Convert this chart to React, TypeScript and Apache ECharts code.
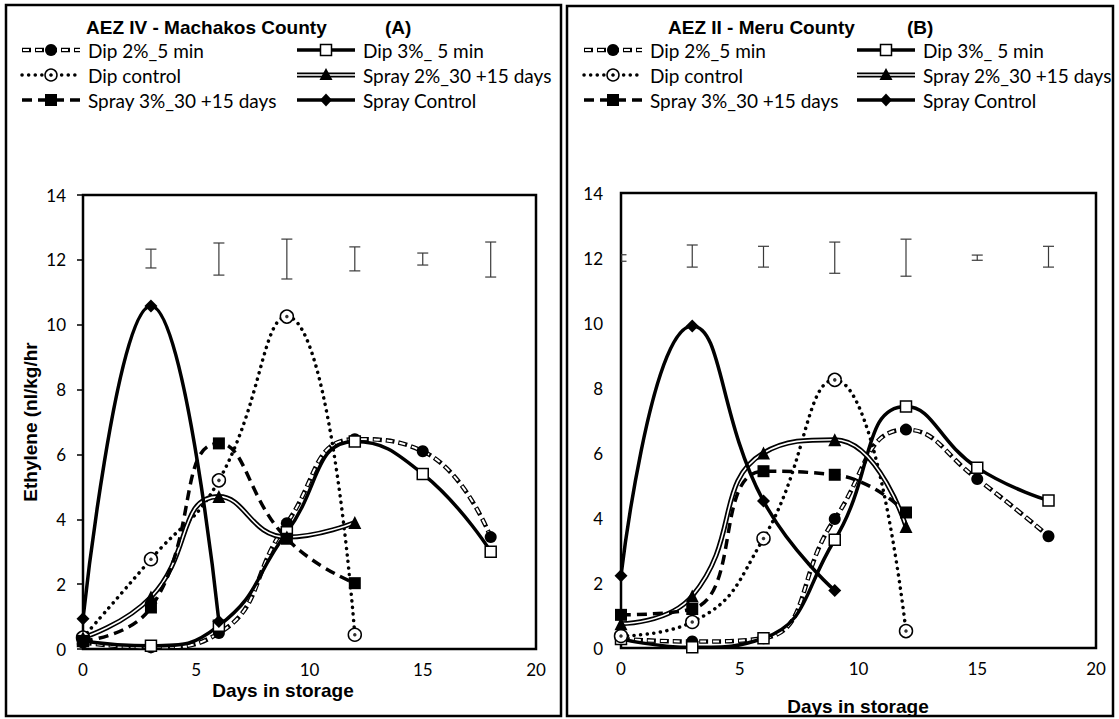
import React, { useEffect, useRef } from "react";
import * as echarts from "echarts";

// ---------- data ----------
const days = [0, 3, 6, 9, 12, 15, 18];
const xTicks = [0, 5, 10, 15, 20];
const yTicks = [0, 2, 4, 6, 8, 10, 12, 14];

const names = [
  "Dip 2%_5 min",
  "Dip 3%_ 5 min",
  "Dip control",
  "Spray 2%_30 +15 days",
  "Spray 3%_30 +15 days",
  "Spray Control",
];

// Panel A - AEZ IV Machakos County
const dip2A = [0.2, 0.05, 0.49, 3.88, 6.47, 6.1, 3.45];
const dip3A = [0.25, 0.1, 0.72, 3.6, 6.4, 5.4, 3.0];
const dipCtrlA = [0.35, 2.77, 5.2, 10.25, 0.44];
const spray2A = [0.35, 1.6, 4.7, 3.45, 3.9];
const spray3A = [0.25, 1.28, 6.34, 3.4, 2.03];
const sprayCtrlA = [0.93, 10.58, 0.85];
const errDaysA = [3, 6, 9, 12, 15, 18];
const errLowA = [11.75, 11.53, 11.41, 11.66, 11.84, 11.47];
const errHighA = [12.33, 12.52, 12.64, 12.4, 12.21, 12.55];

// Panel B - AEZ II Meru County
const dip2B = [0.28, 0.2, 0.3, 3.97, 6.72, 5.2, 3.44];
const dip3B = [0.28, 0.02, 0.3, 3.33, 7.43, 5.55, 4.54];
const dipCtrlB = [0.37, 0.8, 3.37, 8.25, 0.52];
const spray2B = [0.75, 1.6, 6.0, 6.41, 3.74];
const spray3B = [1.02, 1.2, 5.44, 5.33, 4.17];
const sprayCtrlB = [2.22, 9.91, 4.52, 1.77];
const errDaysB = [0, 3, 6, 9, 12, 15, 18];
const errLowB = [11.9, 11.72, 11.72, 11.53, 11.44, 11.93, 11.72];
const errHighB = [12.1, 12.4, 12.36, 12.49, 12.58, 12.09, 12.36];

// ---------- helpers ----------
const SM = 0.5;
const FONT = "Lato";
const BOLD = "Liberation Sans";

const pairs = (vals: number[]) => vals.map((v, i) => [days[i], v]);

function panelSeries(
  g: number,
  d: { dip2: number[]; dip3: number[]; dipCtrl: number[]; spray2: number[]; spray3: number[]; sprayCtrl: number[] },
  eDays: number[],
  eLow: number[],
  eHigh: number[]
) {
  const base = { type: "line", xAxisIndex: g, yAxisIndex: g, smooth: SM, silent: true };
  return [
    {
      type: "custom",
      xAxisIndex: g,
      yAxisIndex: g,
      clip: true,
      silent: true,
      z: 1,
      data: eDays.map((x, i) => [x, eLow[i], eHigh[i]]),
      encode: { x: 0, y: [1, 2] },
      renderItem: (_p: any, api: any) => {
        const lo = api.coord([api.value(0), api.value(1)]);
        const hi = api.coord([api.value(0), api.value(2)]);
        const hw = 5.5;
        const st = { stroke: "#3a3a3a", lineWidth: 1.2 };
        return {
          type: "group",
          children: [
            { type: "line", shape: { x1: lo[0], y1: lo[1], x2: hi[0], y2: hi[1] }, style: st },
            { type: "line", shape: { x1: lo[0] - hw, y1: lo[1], x2: lo[0] + hw, y2: lo[1] }, style: st },
            { type: "line", shape: { x1: hi[0] - hw, y1: hi[1], x2: hi[0] + hw, y2: hi[1] }, style: st },
          ],
        };
      },
    },
    // Dip 2% : outlined white dashes
    {
      ...base,
      name: names[0] + " outline",
      data: pairs(d.dip2),
      symbol: "none",
      lineStyle: { color: "#000", width: 4.5, type: [9, 4] },
    },
    {
      ...base,
      name: names[0],
      data: pairs(d.dip2),
      symbol: "circle",
      symbolSize: 12,
      itemStyle: { color: "#000" },
      lineStyle: { color: "#fff", width: 2, type: [6, 7], dashOffset: -1.5 },
    },
    // Dip 3%
    {
      ...base,
      name: names[1],
      data: pairs(d.dip3),
      symbol: "rect",
      symbolSize: 11,
      itemStyle: { color: "#fff", borderColor: "#000", borderWidth: 1.5 },
      lineStyle: { color: "#000", width: 3.5 },
    },
    // Dip control
    {
      ...base,
      name: names[2],
      data: pairs(d.dipCtrl),
      symbol: "circle",
      symbolSize: 13,
      itemStyle: { color: "#fff", borderColor: "#000", borderWidth: 1.5 },
      lineStyle: { color: "#000", width: 3.5, type: [0.1, 6.5], cap: "round" },
    },
    {
      type: "scatter",
      xAxisIndex: g,
      yAxisIndex: g,
      silent: true,
      z: 3,
      data: pairs(d.dipCtrl),
      symbol: "circle",
      symbolSize: 3.5,
      itemStyle: { color: "#000" },
    },
    // Spray 2% : double line
    {
      ...base,
      name: names[3] + " outline",
      data: pairs(d.spray2),
      symbol: "none",
      lineStyle: { color: "#000", width: 5 },
    },
    {
      ...base,
      name: names[3],
      data: pairs(d.spray2),
      symbol: "triangle",
      symbolSize: 13,
      itemStyle: { color: "#000" },
      lineStyle: { color: "#fff", width: 1.6 },
    },
    // Spray 3%
    {
      ...base,
      name: names[4],
      data: pairs(d.spray3),
      symbol: "rect",
      symbolSize: 12,
      itemStyle: { color: "#000" },
      lineStyle: { color: "#000", width: 3.5, type: [10, 6] },
    },
    // Spray control
    {
      ...base,
      name: names[5],
      data: pairs(d.sprayCtrl),
      symbol: "diamond",
      symbolSize: 13,
      itemStyle: { color: "#000" },
      lineStyle: { color: "#000", width: 3.5 },
    },
  ];
}

function legendItem(kind: number, x0: number, w: number, y: number, tx: number) {
  const els: any[] = [];
  const cx = x0 + w / 2;
  const line = (style: any) => ({
    type: "line",
    silent: true,
    shape: { x1: x0, y1: y, x2: x0 + w, y2: y },
    style: { stroke: "#000", ...style },
  });
  if (kind === 0) {
    els.push(line({ lineWidth: 4.5, lineDash: [9, 4] }));
    els.push(line({ stroke: "#fff", lineWidth: 2, lineDash: [6, 7], lineDashOffset: -1.5 }));
    els.push({ type: "circle", shape: { cx, cy: y, r: 6 }, style: { fill: "#000" } });
  } else if (kind === 1) {
    els.push(line({ lineWidth: 3.5 }));
    els.push({ type: "rect", shape: { x: cx - 5.5, y: y - 5.5, width: 11, height: 11 }, style: { fill: "#fff", stroke: "#000", lineWidth: 1.5 } });
  } else if (kind === 2) {
    els.push(line({ lineWidth: 3.5, lineDash: [0.1, 6.5], lineCap: "round" }));
    els.push({ type: "circle", shape: { cx, cy: y, r: 6 }, style: { fill: "#fff", stroke: "#000", lineWidth: 1.5 } });
    els.push({ type: "circle", shape: { cx, cy: y, r: 1.8 }, style: { fill: "#000" } });
  } else if (kind === 3) {
    els.push(line({ lineWidth: 5 }));
    els.push(line({ stroke: "#fff", lineWidth: 1.6 }));
    els.push({ type: "polygon", shape: { points: [[cx, y - 7], [cx + 6.5, y + 5], [cx - 6.5, y + 5]] }, style: { fill: "#000" } });
  } else if (kind === 4) {
    els.push(line({ lineWidth: 3.5, lineDash: [10, 6] }));
    els.push({ type: "rect", shape: { x: cx - 6, y: y - 6, width: 12, height: 12 }, style: { fill: "#000" } });
  } else {
    els.push(line({ lineWidth: 3.5 }));
    els.push({ type: "polygon", shape: { points: [[cx, y - 6.5], [cx + 6, y], [cx, y + 6.5], [cx - 6, y]] }, style: { fill: "#000" } });
  }
  els.push({
    type: "text",
    style: { text: names[kind], x: tx, y, fill: "#000", fontSize: 19, fontFamily: FONT, verticalAlign: "middle" },
  });
  return els;
}

function legendBlock(c1: number, c2: number) {
  const rows = [50, 75, 100];
  const out: any[] = [];
  for (let i = 0; i < 6; i++) {
    const col = i % 2;
    const row = Math.floor(i / 2);
    const x0 = col === 0 ? c1 : c2;
    out.push(...legendItem(i, x0, 58, rows[row], x0 + 66));
  }
  return out;
}

const boldText = (text: string, x: number, y: number, extra: any = {}) => ({
  type: "text",
  silent: true,
  ...extra,
  style: { text, x, y, fill: "#000", fontSize: 19, fontWeight: "bold", fontFamily: BOLD, verticalAlign: "middle", ...(extra.style || {}) },
});

export default function App() {
  const ref = useRef<HTMLDivElement>(null);
  useEffect(() => {
    if (!ref.current) return;
    const chart = echarts.init(ref.current, undefined, { renderer: "svg" });
    const axisLabel = { fontSize: 17, fontFamily: FONT, color: "#000" };
    const xAxis = (g: number) => ({
      type: "value",
      gridIndex: g,
      min: xTicks[0],
      max: xTicks[xTicks.length - 1],
      interval: xTicks[1] - xTicks[0],
      axisLine: { show: false },
      axisTick: { show: false },
      splitLine: { show: false },
      axisLabel: { ...axisLabel, margin: 12 },
    });
    const yAxis = (g: number, ticks: boolean, margin: number) => ({
      type: "value",
      gridIndex: g,
      min: yTicks[0],
      max: yTicks[yTicks.length - 1],
      interval: yTicks[1] - yTicks[0],
      axisLine: { show: false },
      axisTick: { show: ticks, length: 6, lineStyle: { color: "#000", width: 1.5 } },
      splitLine: { show: false },
      axisLabel: { ...axisLabel, margin },
    });

    const option: any = {
      animation: false,
      backgroundColor: "#fff",
      textStyle: { fontFamily: FONT },
      grid: [
        { left: 83, top: 195, width: 453, height: 454, show: true, borderColor: "#000", borderWidth: 2.5, backgroundColor: "transparent" },
        { left: 621, top: 193, width: 475, height: 455, show: true, borderColor: "#000", borderWidth: 2.5, backgroundColor: "transparent" },
      ],
      xAxis: [xAxis(0), xAxis(1)],
      yAxis: [yAxis(0, true, 17), yAxis(1, false, 18)],
      series: [
        ...panelSeries(0, { dip2: dip2A, dip3: dip3A, dipCtrl: dipCtrlA, spray2: spray2A, spray3: spray3A, sprayCtrl: sprayCtrlA }, errDaysA, errLowA, errHighA),
        ...panelSeries(1, { dip2: dip2B, dip3: dip3B, dipCtrl: dipCtrlB, spray2: spray2B, spray3: spray3B, sprayCtrl: sprayCtrlB }, errDaysB, errLowB, errHighB),
      ],
      graphic: [
        { type: "rect", silent: true, shape: { x: 6, y: 5, width: 555, height: 711 }, style: { fill: "none", stroke: "#000", lineWidth: 2.5 } },
        { type: "rect", silent: true, shape: { x: 567, y: 6, width: 546, height: 710 }, style: { fill: "none", stroke: "#000", lineWidth: 2.5 } },
        boldText("AEZ IV - Machakos County", 86, 27),
        boldText("(A)", 385, 27),
        boldText("AEZ II - Meru County", 668, 27),
        boldText("(B)", 907, 27),
        ...legendBlock(22, 297),
        ...legendBlock(584, 857),
        boldText("Ethylene (nl/kg/hr", 0, 0, { x: 30, y: 422, rotation: Math.PI / 2, style: { textAlign: "center" } }),
        boldText("Days in storage", 283, 690, { style: { textAlign: "center" } }),
        boldText("Days in storage", 858, 706, { style: { textAlign: "center" } }),
      ],
    };
    chart.setOption(option);
    return () => chart.dispose();
  }, []);
  return <div ref={ref} style={{ position: "fixed", left: 0, top: 0, width: 1119, height: 719 }} />;
}
